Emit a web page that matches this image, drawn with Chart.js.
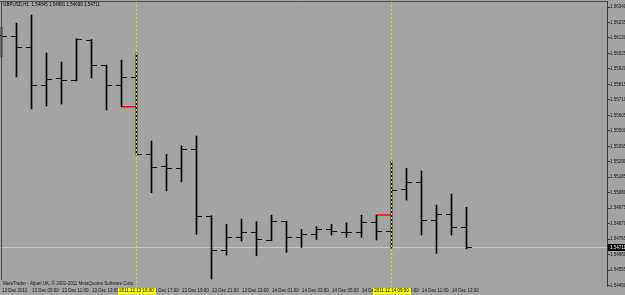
<!DOCTYPE html>
<html>
<head>
<meta charset="utf-8">
<script src="https://cdn.jsdelivr.net/npm/chart.js@4.4.1/dist/chart.umd.min.js"></script>
<style>
    html, body { margin: 0; padding: 0; background: #a4a4a4; overflow: hidden; }
    canvas { display: block; }
</style>
</head>
<body>
<canvas id="chart" width="625" height="295"></canvas>
<script>
const symbolTitle = 'GBPUSD,H1  1.54845 1.54981 1.54699 1.54711';
const copyright = 'MetaTrader - Alpari UK, \u00a9 2001-2011 MetaQuotes Software Corp.';

// H1 bars, 13 Dec 2011 07:00 .. 14 Dec 2011 14:00
const opens = [
    1.56150, 1.56138, 1.56064, 1.55809, 1.55853, 1.55840, 1.56111, 1.55944,
    1.55809, 1.55860, 1.55336, 1.55256, 1.55241, 1.55370, 1.54917, 1.54691,
    1.54774, 1.54811, 1.54759, 1.54883, 1.54777, 1.54797, 1.54831, 1.54811,
    1.54808, 1.54876, 1.54815, 1.55103, 1.55148, 1.54894, 1.54933, 1.54845,
];
const highs = [
    1.56204, 1.56231, 1.56286, 1.56028, 1.55967, 1.56125, 1.56120, 1.55946,
    1.55980, 1.56028, 1.55431, 1.55340, 1.55399, 1.55465, 1.54924, 1.54865,
    1.54901, 1.54883, 1.54928, 1.54885, 1.54831, 1.54849, 1.54865, 1.54876,
    1.54928, 1.54928, 1.55295, 1.55245, 1.55227, 1.54996, 1.55071, 1.54981,
];
const lows = [
    1.56001, 1.55865, 1.55648, 1.55668, 1.55682, 1.55838, 1.55858, 1.55641,
    1.55663, 1.55336, 1.55080, 1.55093, 1.55154, 1.54797, 1.54494, 1.54657,
    1.54752, 1.54652, 1.54755, 1.54675, 1.54709, 1.54763, 1.54793, 1.54777,
    1.54777, 1.54759, 1.54704, 1.55030, 1.54793, 1.54668, 1.54793, 1.54699,
];
const closes = [
    1.56143, 1.56064, 1.55809, 1.55849, 1.55840, 1.56121, 1.55946, 1.55809,
    1.55860, 1.55340, 1.55249, 1.55245, 1.55374, 1.54917, 1.54691, 1.54774,
    1.54811, 1.54763, 1.54883, 1.54777, 1.54797, 1.54831, 1.54815, 1.54808,
    1.54876, 1.54815, 1.55098, 1.55148, 1.54890, 1.54933, 1.54845, 1.54711,
];

const priceTicks = [
    1.54450, 1.54555, 1.54660, 1.54765, 1.54870, 1.54975, 1.55080, 1.55185,
    1.55290, 1.55395, 1.55500, 1.55605, 1.55710, 1.55815, 1.55920, 1.56025,
    1.56130, 1.56235, 1.56340,
];
const yMin = 1.54447;
const yMax = 1.56381;

const timeLabelBars = [0, 2, 4, 6, 8, 10, 12, 14, 16, 18, 20, 22, 24, 26, 28, 30];
const timeLabels = [
    '13 Dec 2011', '13 Dec 09:00', '13 Dec 11:00', '13 Dec 13:00',
    '13 Dec 15:00', '13 Dec 17:00', '13 Dec 19:00', '13 Dec 21:00',
    '13 Dec 23:00', '14 Dec 01:00', '14 Dec 03:00', '14 Dec 05:00',
    '14 Dec 07:00', '14 Dec 09:00', '14 Dec 11:00', '14 Dec 13:00',
];

// vertical line objects
const cursorBars = [9, 26];
const cursorLabels = ['2011.12.13 16:00', '2011.12.14 09:00'];

// red level marks (bar -> next bar)
const levelFrom = [8, 25];
const levelPrices = [1.55663, 1.54928];

Chart.defaults.font.family = '"Liberation Sans", Arial, sans-serif';

const BG = '#a4a4a4';
const FONT = '4.5px "Liberation Sans", Arial, sans-serif';

const levelSegments = [];
levelFrom.forEach((b, i) => {
    if (i > 0) {
        levelSegments.push({ x: b, y: null });
    }
    levelSegments.push({ x: b, y: levelPrices[i] });
    levelSegments.push({ x: b + 1, y: levelPrices[i] });
});

const mtOverlay = {
    id: 'mtOverlay',
    beforeDraw(chart) {
        const { ctx, width, height } = chart;
        ctx.save();
        ctx.fillStyle = BG;
        ctx.fillRect(0, 0, width, height);
        ctx.restore();
    },
    beforeDatasetsDraw(chart) {
        const { ctx, chartArea, scales: { y } } = chart;
        const py = Math.floor(y.getPixelForValue(closes[closes.length - 1])) + 0.5;
        ctx.save();
        ctx.strokeStyle = '#c8c8c8';
        ctx.lineWidth = 1;
        ctx.beginPath();
        ctx.moveTo(chartArea.left, py);
        ctx.lineTo(chartArea.right, py);
        ctx.stroke();
        ctx.restore();
    },
    afterDatasetsDraw(chart) {
        const { ctx, chartArea, scales: { x, y } } = chart;
        ctx.save();
        ctx.beginPath();
        ctx.rect(chartArea.left, chartArea.top, chartArea.right - chartArea.left, chartArea.bottom - chartArea.top);
        ctx.clip();

        // open / close ticks
        ctx.strokeStyle = '#111';
        ctx.lineWidth = 1;
        ctx.beginPath();
        opens.forEach((o, i) => {
            const px = Math.floor(x.getPixelForValue(i)) + 0.5;
            const yo = Math.floor(y.getPixelForValue(o)) + 0.5;
            const yc = Math.floor(y.getPixelForValue(closes[i])) + 0.5;
            ctx.moveTo(px - 5.5, yo);
            ctx.lineTo(px + 0.5, yo);
            ctx.moveTo(px - 0.5, yc);
            ctx.lineTo(px + 5.5, yc);
        });
        ctx.stroke();

        // dotted vertical lines
        ctx.strokeStyle = '#dede00';
        ctx.setLineDash([2, 2]);
        cursorBars.forEach((b) => {
            const px = Math.floor(x.getPixelForValue(b)) + 0.5;
            ctx.beginPath();
            ctx.moveTo(px, chartArea.top);
            ctx.lineTo(px, chartArea.bottom + 2);
            ctx.stroke();
        });
        ctx.restore();

        // frame
        ctx.save();
        ctx.strokeStyle = '#4c4c4c';
        ctx.lineWidth = 1;
        ctx.beginPath();
        ctx.moveTo(0, chartArea.top + 0.5);
        ctx.lineTo(chartArea.right, chartArea.top + 0.5);
        ctx.moveTo(1.5, chartArea.top);
        ctx.lineTo(1.5, 280);
        ctx.stroke();
        ctx.restore();
    },
    afterDraw(chart) {
        const { ctx, chartArea, scales: { x, y } } = chart;
        ctx.save();
        ctx.font = FONT;
        ctx.textBaseline = 'middle';

        ctx.fillStyle = '#000';
        ctx.textAlign = 'left';
        ctx.fillText(symbolTitle, 3, 5);
        ctx.fillStyle = '#151515';
        ctx.fillText(copyright, 3, 283.5);

        // time axis labels, left aligned on their bar
        ctx.fillStyle = '#111';
        timeLabelBars.forEach((b, i) => {
            ctx.fillText(timeLabels[i], x.getPixelForValue(b) + 0.5, 290.5);
        });

        // time boxes of the vertical lines
        cursorBars.forEach((b, i) => {
            const px = Math.floor(x.getPixelForValue(b)) + 0.5;
            const w = ctx.measureText(cursorLabels[i]).width;
            ctx.fillStyle = '#ffff00';
            ctx.fillRect(Math.round(px - w / 2 - 1.5), 288, Math.round(w + 3), 6.5);
            ctx.fillStyle = '#000';
            ctx.textAlign = 'center';
            ctx.fillText(cursorLabels[i], px, 291.2);
        });

        // current price box
        const py = y.getPixelForValue(closes[closes.length - 1]);
        ctx.fillStyle = '#000';
        ctx.fillRect(chartArea.right + 1, Math.round(py) - 3, 18, 7);
        ctx.fillStyle = '#fff';
        ctx.textAlign = 'left';
        ctx.fillText(closes[closes.length - 1].toFixed(5), chartArea.right + 3, Math.round(py) + 0.5);
        ctx.restore();
    },
};

new Chart(document.getElementById('chart'), {
    type: 'bar',
    data: {
        datasets: [
            {
                type: 'bar',
                data: highs.map((h, i) => ({ x: i, y: [lows[i], h] })),
                backgroundColor: '#000',
                borderWidth: 0,
                barThickness: 1,
                grouped: false,
            },
            {
                type: 'line',
                data: levelSegments,
                borderColor: '#ff0000',
                borderWidth: 1.5,
                pointRadius: 0,
                spanGaps: false,
            },
        ],
    },
    options: {
        responsive: false,
        animation: false,
        devicePixelRatio: 1,
        layout: { padding: { top: 1, left: 0, right: 0, bottom: 0 } },
        plugins: {
            legend: { display: false },
            tooltip: { enabled: false },
        },
        scales: {
            x: {
                type: 'linear',
                offset: false,
                min: -0.1,
                max: 40.36667,
                grid: { display: false },
                border: { display: false },
                ticks: { display: false },
                afterFit: (scale) => {
                    scale.height = 9;
                    scale.paddingLeft = 0;
                    scale.paddingRight = 0;
                },
            },
            y: {
                position: 'right',
                min: yMin,
                max: yMax,
                afterBuildTicks: (scale) => {
                    scale.ticks = priceTicks.map((v) => ({ value: v }));
                },
                afterFit: (scale) => {
                    scale.width = 18;
                    scale.paddingTop = 0;
                    scale.paddingBottom = 0;
                },
                grid: { drawOnChartArea: false, tickLength: 3, color: '#3a3a3a' },
                border: { color: '#3a3a3a' },
                ticks: {
                    padding: 0,
                    color: '#111',
                    font: { size: 4.5 },
                    callback: (value) => value.toFixed(5),
                },
            },
        },
    },
    plugins: [mtOverlay],
});
</script>
</body>
</html>
